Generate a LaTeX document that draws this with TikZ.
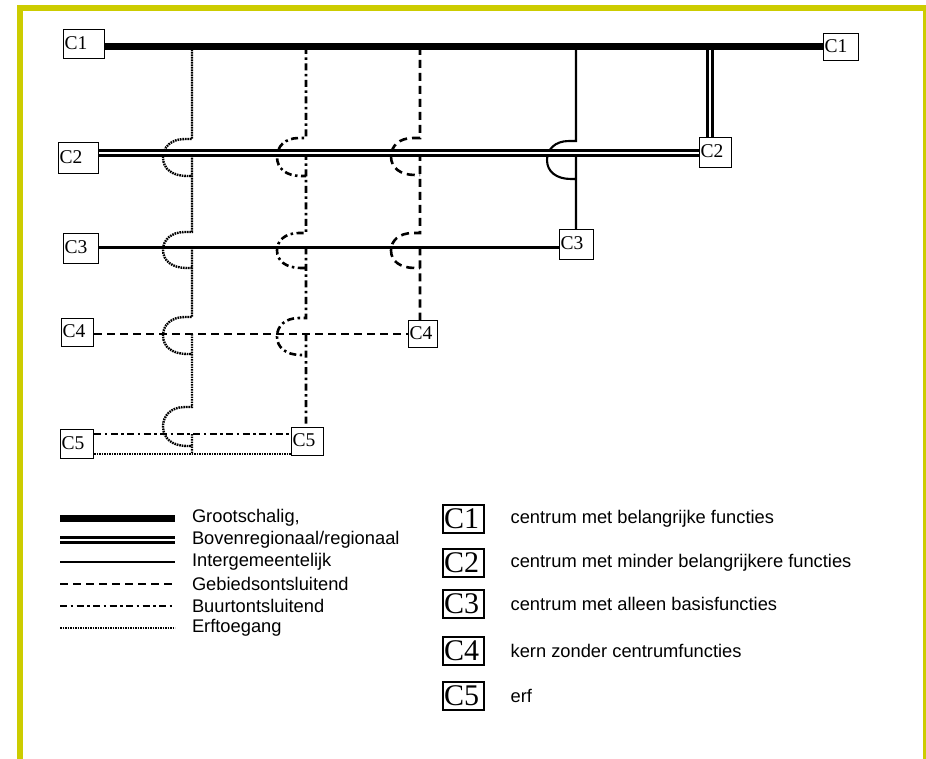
\documentclass[tikz,border=0pt]{standalone}
\usepackage{fontspec}
\setmainfont{Liberation Serif}
\newfontfamily\legendafont{Liberation Sans}
\usetikzlibrary{positioning, calc}

\definecolor{kaderkleur}{RGB}{204,204,0}

% bridge of a vertical road over a horizontal one
\newcommand{\brug}[3]{-- (#1-7,#2) .. controls (#1-21,#2) and (#1-29,{#2+0.22*(#3-#2)}) .. (#1-29,{(#2+#3)/2}) .. controls (#1-29,{#3-0.2*(#3-#2)}) and (#1-20,#3) .. (#1-5,#3) -- (#1,#3)}

\begin{document}
\begin{tikzpicture}[x=1pt, y=-1pt,
    kern/.style={draw, line width=1.3pt, inner xsep=1pt, inner ysep=0pt, anchor=north west,
        align=left, text depth=3pt, font=\fontsize{19.5}{19.5}\selectfont},
    legkern/.style={draw, line width=1.3pt, inner xsep=1pt, inner ysep=0pt, text width=39pt,
        minimum height=28pt, align=left, text depth=0pt, font=\fontsize{30}{30}\selectfont},
    legtekst/.style={inner sep=0pt, outer sep=0pt, font=\legendafont\fontsize{18.3}{18.3}\selectfont},
    grootschalig/.style={line width=7pt},
    bovenregionaal/.style={double, line width=2.5pt, double distance=2.2pt},
    intergemeentelijk/.style={line width=2.1pt},
    gebied/.style={line width=2.6pt, dash pattern=on 8pt off 5pt},
    buurt/.style={line width=2.6pt, dash pattern=on 7pt off 3.5pt on 2.5pt off 3.5pt},
    erf/.style={line width=2.4pt, dash pattern=on 1.6pt off 0.9pt}]

\useasboundingbox (0,0) rectangle (926,759);
\clip (0,0) rectangle (926,759);
% frame
\draw[kaderkleur, line width=6pt] (20,770) -- (20,8) -- (926,8) -- (926,770);

% kernen
\node[kern, text width=39pt, minimum height=29pt] (a1) at (63,29) {C1};
\node[kern, text width=33pt, minimum height=27pt] (b1) at (823,33) {C1};
\node[kern, text width=38pt, minimum height=31pt] (a2) at (58,142) {C2};
\node[kern, text width=30pt, minimum height=30pt] (b2) at (699,137) {C2};
\node[kern, text width=33pt, minimum height=30pt] (a3) at (63,233) {C3};
\node[kern, text width=32pt, minimum height=30pt] (b3) at (559,229) {C3};
\node[kern, text width=30pt, minimum height=28pt] (a4) at (61,318) {C4};
\node[kern, text width=27pt, minimum height=27pt] (b4) at (408,320) {C4};
\node[kern, text width=31pt, minimum height=29pt] (a5) at (60,429) {C5};
\node[kern, text width=30pt, minimum height=28pt] (b5) at (291,427) {C5};

% junctions on the C1 road
\coordinate (je) at (192,47);
\coordinate (jb) at (306,47);
\coordinate (jg) at (420,47);
\coordinate (ji) at (576,47);
\coordinate (jr) at (710,47);

% vertical roads
\draw[bovenregionaal] (jr) -- (jr |- b2.north);
\draw[intergemeentelijk] (ji) -- (576,141) \brug{576}{141}{179}
    (576,153) -- (ji |- b3.north);
\draw[gebied] (jg) -- (420,138) \brug{420}{138}{175}
    (420,153) -- (420,233) \brug{420}{233}{268}
    (420,247.5) -- (jg |- b4.north);
\draw[buurt] (jb) -- (306,138) \brug{306}{138}{176}
    (306,153) -- (306,233) \brug{306}{233}{268}
    (306,247.5) -- (306,318) \brug{306}{318}{355}
    (306,334) -- (jb |- b5.north);
\draw[erf] (je) -- (192,139) \brug{192}{139}{176}
    (192,153) -- (192,232) \brug{192}{232}{268}
    (192,247.5) -- (192,317) \brug{192}{317}{354}
    (192,334) -- (192,407) \brug{192}{407}{446}
    (192,434) -- (192,454);

% horizontal roads
\draw[grootschalig] (a1.east |- je) -- (b1.west |- je);
\draw[bovenregionaal] (a2.east |- 0,153) -- (b2.west |- 0,153);
\draw[intergemeentelijk] (a3.east |- 0,247.5) -- (b3.west |- 0,247.5);
\draw[gebied] (a4.east |- 0,334) -- (b4.west |- 0,334);
\draw[buurt] (a5.east |- 0,434) -- (b5.west |- 0,434);
\draw[erf] (a5.east |- 0,454) -- (b5.west |- 0,454);

% legenda wegen
\foreach \s/\y/\t in {grootschalig/518/{Grootschalig,}, bovenregionaal/540/{Bovenregionaal/regionaal},
    intergemeentelijk/562/Intergemeentelijk, gebied/584/Gebiedsontsluitend,
    buurt/606/Buurtontsluitend, erf/628/Erftoegang}
    \draw[\s] (60,\y) -- (175,\y) node[legtekst, right=17pt] (w-\s) {\t};

% legenda kernen
\foreach \k/\y/\t in {1/519/centrum met belangrijke functies, 2/563/centrum met minder belangrijkere functies,
    3/604/centrum met alleen basisfuncties, 4/651/kern zonder centrumfuncties, 5/696/erf} {
    \node[legkern] (k\k) at (463.5,\y) {C\k};
    \node[legtekst, right=26pt of k\k] (t\k) {\t};
}
\end{tikzpicture}
\end{document}
